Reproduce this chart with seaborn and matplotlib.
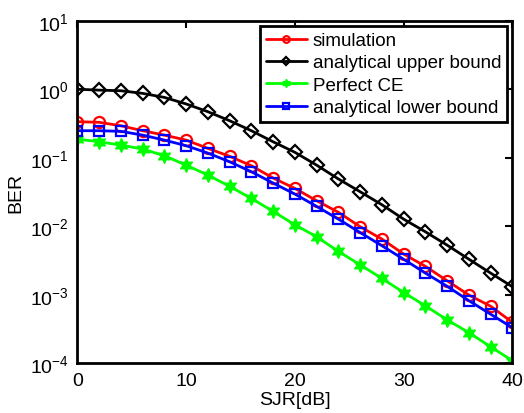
import matplotlib
matplotlib.use("Agg")
import matplotlib.pyplot as plt
import seaborn as sns
import numpy as np

sjr = [0, 2, 4, 6, 8, 10, 12, 14, 16, 18, 20, 22, 24, 26, 28, 30, 32, 34, 36, 38, 40]
simulation = [0.336, 0.329, 0.293, 0.248, 0.214, 0.181, 0.137, 0.105, 0.0764, 0.0506, 0.0357,
              0.0236, 0.0160, 0.00984, 0.0065, 0.00393, 0.0026, 0.0016, 0.00099, 0.00068, 0.000395]
upper_bound = [1.0, 0.97, 0.95, 0.87, 0.76, 0.61, 0.47, 0.347, 0.248, 0.171, 0.12,
               0.078, 0.049, 0.0319, 0.0206, 0.0127, 0.0083, 0.0053, 0.0033, 0.00207, 0.00131]
perfect_ce = [0.1875, 0.171, 0.153, 0.134, 0.107, 0.078, 0.0559, 0.0382, 0.0255, 0.0165, 0.0105,
              0.00703, 0.0043, 0.00274, 0.00173, 0.00108, 0.00069, 0.00043, 0.00028, 0.000174, 0.000109]
lower_bound = [0.248, 0.248, 0.243, 0.214, 0.181, 0.150, 0.117, 0.0874, 0.0625, 0.0427, 0.0295,
               0.0195, 0.0127, 0.0081, 0.0052, 0.0033, 0.00207, 0.00133, 0.00082, 0.00052, 0.00033]
labels = ["simulation", "analytical upper bound", "Perfect CE", "analytical lower bound"]
x_ticks = [0, 10, 20, 30, 40]
y_ticks = [1e-4, 1e-3, 1e-2, 1e-1, 1e0, 1e1]

sns.set_style("white")
plt.rcParams['font.family'] = ['Liberation Sans', 'DejaVu Sans']
plt.rcParams['mathtext.fontset'] = 'custom'
plt.rcParams['mathtext.rm'] = 'Liberation Sans'
plt.rcParams['mathtext.it'] = 'Liberation Sans'
plt.rcParams['mathtext.default'] = 'regular'
for k in ['text.color', 'axes.labelcolor', 'xtick.color', 'ytick.color']:
    plt.rcParams[k] = 'black'

fs = 14
lfs = 13.5
fig = plt.figure(figsize=(5.24, 4.14), dpi=100)
ax = fig.add_axes([0.1475, 0.12, 0.978 - 0.1475, 0.9476 - 0.12])

series = [simulation, upper_bound, perfect_ce, lower_bound]
styles = [
    dict(color=(1, 0, 0), marker='o', markerfacecolor='none', markeredgecolor=(1, 0, 0), markersize=8, markeredgewidth=1.6),
    dict(color='black', marker='D', markerfacecolor='none', markeredgecolor='black', markersize=7, markeredgewidth=1.6),
    dict(color=(0, 1, 0), marker=(6, 1, 0), markerfacecolor=(0, 1, 0), markeredgecolor=(0, 1, 0), markersize=10, markeredgewidth=1.0),
    dict(color=(0, 0, 1), marker='s', markerfacecolor='none', markeredgecolor=(0, 0, 1), markersize=7, markeredgewidth=1.6),
]
for vals, lab, st in zip(series, labels, styles):
    sns.lineplot(x=sjr, y=vals, ax=ax, label=lab, linewidth=2, **st)

ax.set_yscale('log')
ax.set_xlim(0, 40)
ax.set_ylim(1e-4, 1e1)
ax.set_xticks(x_ticks)
ax.set_xticklabels([str(t) for t in x_ticks], fontsize=fs)
ax.set_yticks(y_ticks)
ax.set_yticklabels([r'$10^{%d}$' % int(np.log10(t)) for t in y_ticks], fontsize=fs)
ax.minorticks_off()
ax.tick_params(direction='in', top=True, right=True, length=5, width=1.5, pad=6)
for sp in ax.spines.values():
    sp.set_visible(True)
    sp.set_color('black')
    sp.set_linewidth(2)
ax.set_xlabel('SJR[dB]', fontsize=fs, labelpad=2)
ax.set_ylabel('BER', fontsize=fs, labelpad=4)

leg = ax.legend(loc='upper right', fontsize=lfs, fancybox=False, framealpha=1, edgecolor='black',
                handlelength=2.2, borderpad=0.3, labelspacing=0.28, handletextpad=0.3,
                borderaxespad=0.3, markerscale=0.6)
leg.get_frame().set_linewidth(2)

fig.savefig('out.png', dpi=100)
